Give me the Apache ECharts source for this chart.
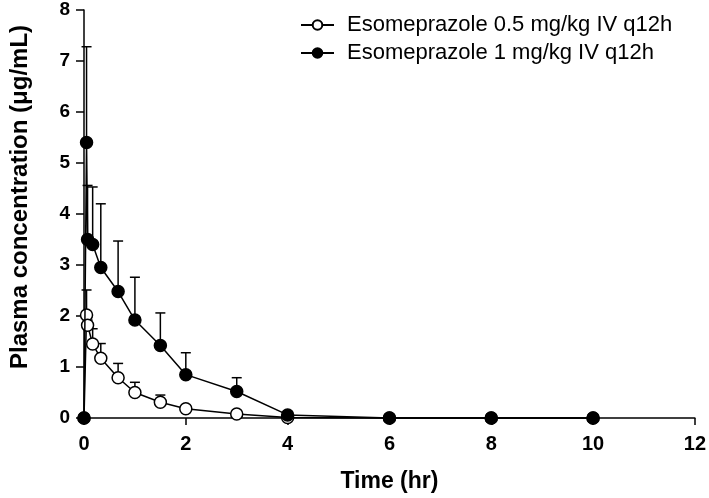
<!DOCTYPE html>
<html>
<head>
<meta charset="utf-8">
<script src="https://cdn.jsdelivr.net/npm/echarts@6/dist/echarts.min.js"></script>
<style>html,body{margin:0;padding:0;background:#fff}#c{width:709px;height:498px}</style>
</head>
<body>
<div id="c"></div>
<script>
// Data
var times = [0, 0.05, 0.07, 0.17, 0.33, 0.67, 1, 1.5, 2, 3, 4, 6, 8, 10];
var lowDoseMean = [0, 2.02, 1.82, 1.45, 1.17, 0.79, 0.50, 0.31, 0.18, 0.08, 0.01, 0, 0, 0];
var lowDoseSD   = [null, 0.49, 0.10, 0.30, 0.29, 0.28, 0.20, 0.14, 0.03, null, null, null, null, null];
var highDoseMean = [0, 5.40, 3.50, 3.40, 2.95, 2.48, 1.92, 1.42, 0.85, 0.52, 0.06, 0, 0, 0];
var highDoseSD   = [null, 1.88, 1.06, 1.13, 1.25, 0.99, 0.84, 0.64, 0.43, 0.27, null, null, null, null];
var xTicks = [0, 2, 4, 6, 8, 10, 12];
var yTicks = [0, 1, 2, 3, 4, 5, 6, 7, 8];
var seriesNames = ['Esomeprazole 0.5 mg/kg IV q12h', 'Esomeprazole 1 mg/kg IV q12h'];

var FONT = 'Liberation Sans, Arial, sans-serif';

function pairs(mean) {
  return times.map(function (t, i) { return [t, mean[i]]; });
}
function errData(mean, sd) {
  var out = [];
  times.forEach(function (t, i) {
    if (sd[i] != null) out.push([t, mean[i], mean[i] + sd[i]]);
  });
  return out;
}
function errRender(params, api) {
  var x = api.value(0);
  var p0 = api.coord([x, api.value(1)]);
  var p1 = api.coord([x, api.value(2)]);
  var half = 5;
  var style = { stroke: '#000', lineWidth: 1.5 };
  return {
    type: 'group',
    children: [
      { type: 'line', shape: { x1: p0[0], y1: p0[1], x2: p1[0], y2: p1[1] }, style: style },
      { type: 'line', shape: { x1: p1[0] - half, y1: p1[1], x2: p1[0] + half, y2: p1[1] }, style: style }
    ]
  };
}

var chart = echarts.init(document.getElementById('c'), null, { renderer: 'canvas' });
chart.setOption({
  animation: false,
  backgroundColor: '#fff',
  grid: { left: 67, right: 14, top: 10, bottom: 68.5, containLabel: false },
  legend: {
    left: 295, top: 9, orient: 'vertical', itemWidth: 33, itemHeight: 12, itemGap: 6,
    textStyle: { fontFamily: FONT, fontSize: 22, color: '#000', padding: [0, 0, 0, 8] },
    data: seriesNames
  },
  xAxis: {
    type: 'value', min: xTicks[0], max: xTicks[xTicks.length - 1], interval: 2,
    name: 'Time (hr)', nameLocation: 'middle', nameGap: 52,
    nameTextStyle: { fontFamily: FONT, fontSize: 23, fontWeight: 'bold', color: '#000' },
    axisLine: { lineStyle: { color: '#000', width: 1.5 } },
    axisTick: { show: true, length: 7, lineStyle: { color: '#000', width: 1.5 } },
    axisLabel: { fontFamily: FONT, fontSize: 20, fontWeight: 'bold', color: '#000', margin: 16 },
    splitLine: { show: false }
  },
  yAxis: {
    type: 'value', min: yTicks[0], max: yTicks[yTicks.length - 1], interval: 1,
    name: 'Plasma concentration (\u03bcg/mL)', nameLocation: 'middle', nameGap: 52, nameRotate: 90,
    nameTextStyle: { fontFamily: FONT, fontSize: 24, fontWeight: 'bold', color: '#000', padding: [0, 0, 0, 34] },
    axisLine: { lineStyle: { color: '#000', width: 1.5 } },
    axisTick: { show: true, length: 8, lineStyle: { color: '#000', width: 1.5 } },
    axisLabel: { fontFamily: FONT, fontSize: 19, fontWeight: 'bold', color: '#000', margin: 14 },
    splitLine: { show: false }
  },
  series: [
    {
      type: 'custom', name: 'err-low', renderItem: errRender, data: errData(lowDoseMean, lowDoseSD),
      encode: { x: 0, y: [1, 2] }, z: 1, clip: false, silent: true
    },
    {
      type: 'custom', name: 'err-high', renderItem: errRender, data: errData(highDoseMean, highDoseSD),
      encode: { x: 0, y: [1, 2] }, z: 1, clip: false, silent: true
    },
    {
      type: 'line', name: seriesNames[0], data: pairs(lowDoseMean), symbol: 'circle', symbolSize: 12,
      showAllSymbol: true, clip: false, z: 3,
      lineStyle: { color: '#000', width: 1.5 },
      itemStyle: { color: '#fff', borderColor: '#000', borderWidth: 1.5 }
    },
    {
      type: 'line', name: seriesNames[1], data: pairs(highDoseMean), symbol: 'circle', symbolSize: 12,
      showAllSymbol: true, clip: false, z: 4,
      lineStyle: { color: '#000', width: 1.5 },
      itemStyle: { color: '#000', borderColor: '#000', borderWidth: 1.5 }
    }
  ]
});
</script>
</body>
</html>
